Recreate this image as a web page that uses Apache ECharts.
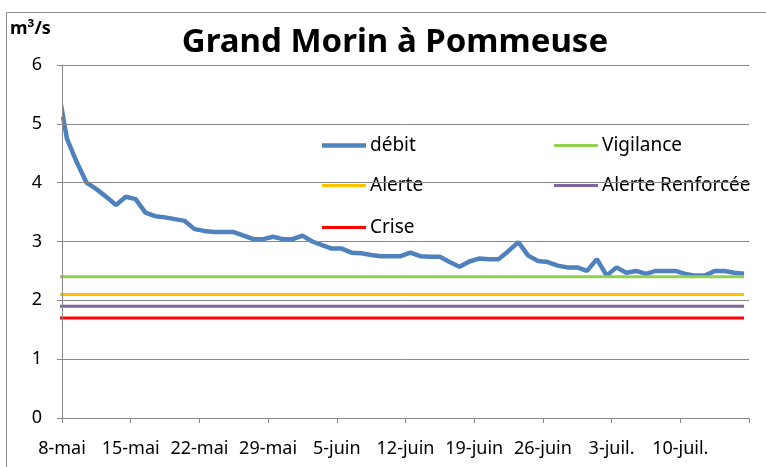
<!DOCTYPE html>
<html>
<head>
<meta charset="utf-8">
<script src="https://cdn.jsdelivr.net/npm/echarts@6/dist/echarts.min.js"></script>
<style>
  html, body { margin: 0; padding: 0; background: #fff; }
  #chart { width: 766px; height: 467px; }
</style>
</head>
<body>
<div id="chart"></div>
<script>
// axe des x : jours depuis le 8 mai, une étiquette toutes les semaines
const tickLabels = ['8-mai', '15-mai', '22-mai', '29-mai', '5-juin', '12-juin',
  '19-juin', '26-juin', '3-juil.', '10-juil.', ''];
// mesures journalières (prises à midi), la première le 7 mai
const firstDay = -0.5;
const debit = [
  5.70, 4.75, 4.35, 4.00, 3.89, 3.76, 3.62, 3.76, 3.72, 3.49, 3.43,
  3.41, 3.38, 3.35, 3.21, 3.18, 3.16, 3.16, 3.16, 3.10, 3.04,
  3.04, 3.08, 3.04, 3.04, 3.10, 3.00, 2.94, 2.88, 2.88, 2.81,
  2.80, 2.77, 2.75, 2.75, 2.75, 2.81, 2.75, 2.74, 2.74, 2.65,
  2.57, 2.66, 2.71, 2.70, 2.70, 2.84, 2.99, 2.76, 2.67, 2.65,
  2.59, 2.56, 2.56, 2.50, 2.70, 2.42, 2.56, 2.47, 2.50, 2.45,
  2.50, 2.50, 2.50, 2.45, 2.42, 2.42, 2.50, 2.50, 2.47, 2.45
];
// seuils (m3/s)
const vigilance = 2.4;
const alerte = 2.1;
const alerteRenforcee = 1.9;
const crise = 1.7;

const lastDay = firstDay + debit.length - 1;
const seuil = (v) => [[firstDay, v], [lastDay, v]];

let myChart = echarts.init(document.getElementById('chart'));
const txt = 'Noto Sans, sans-serif';

// une légende par entrée pour placer les deux colonnes comme dans Excel
const legendItem = (name, left, top, thick) => ({
  data: [name],
  left: left,
  top: top,
  icon: 'rect',
  itemWidth: 44,
  itemHeight: thick,
  itemGap: 0,
  textStyle: { fontFamily: txt, fontSize: 19, color: '#000', padding: [0, 0, 0, -1] },
  selectedMode: false
});

myChart.setOption({
  animation: false,
  backgroundColor: '#fff',
  graphic: [
    {
      type: 'rect',
      shape: { x: 6.5, y: 12.5, width: 780, height: 480 },
      style: { fill: 'none', stroke: '#8a8a8a', lineWidth: 1 },
      z: -1
    },
    // Excel coupe la courbe au bord du graphique
    {
      type: 'rect',
      shape: { x: 54, y: 67, width: 8.5, height: 50 },
      style: { fill: '#fff' },
      z: 100
    },
    {
      type: 'text',
      left: 10,
      top: 20,
      style: { text: 'm³/s', font: 'bold 18px ' + txt, fill: '#000' }
    }
  ],
  title: {
    text: 'Grand Morin à Pommeuse',
    left: 390,
    top: 21,
    textAlign: 'center',
    textStyle: { fontFamily: txt, fontSize: 33, fontWeight: 'bold', color: '#000' }
  },
  legend: [
    legendItem('débit', 317, 131, 4.5),
    legendItem('Vigilance', 549, 131, 3),
    legendItem('Alerte', 317, 171, 3),
    legendItem('Alerte Renforcée', 549, 171, 3),
    legendItem('Crise', 317, 213, 3)
  ],
  grid: { left: 62, right: 17, top: 65, bottom: 49 },
  xAxis: {
    type: 'value',
    min: 0,
    max: 70,
    interval: 7,
    axisLine: { show: true, lineStyle: { color: '#878787', width: 1 } },
    axisTick: { show: true, length: 5, lineStyle: { color: '#878787' } },
    splitLine: { show: false },
    axisLabel: {
      margin: 22,
      fontFamily: txt,
      fontSize: 18,
      color: '#000',
      formatter: (v) => tickLabels[Math.round(v / 7)]
    }
  },
  yAxis: {
    type: 'value',
    min: 0,
    max: 6,
    interval: 1,
    z: 101,
    axisLine: { show: true, lineStyle: { color: '#878787', width: 1 } },
    axisTick: { show: true, length: 5, lineStyle: { color: '#878787' } },
    splitLine: { show: true, lineStyle: { color: '#878787', width: 1 } },
    axisLabel: { margin: 20, fontFamily: txt, fontSize: 18, color: '#000' }
  },
  series: [
    {
      name: 'débit',
      type: 'line',
      symbol: 'none',
      clip: true,
      lineStyle: { color: '#4f81bd', width: 4.5 },
      itemStyle: { color: '#4f81bd' },
      data: debit.map((v, i) => [firstDay + i, v])
    },
    {
      name: 'Vigilance',
      type: 'line',
      symbol: 'none',
      lineStyle: { color: '#92d050', width: 3 },
      itemStyle: { color: '#92d050' },
      data: seuil(vigilance)
    },
    {
      name: 'Alerte',
      type: 'line',
      symbol: 'none',
      lineStyle: { color: '#ffc000', width: 3 },
      itemStyle: { color: '#ffc000' },
      data: seuil(alerte)
    },
    {
      name: 'Alerte Renforcée',
      type: 'line',
      symbol: 'none',
      lineStyle: { color: '#8064a2', width: 3 },
      itemStyle: { color: '#8064a2' },
      data: seuil(alerteRenforcee)
    },
    {
      name: 'Crise',
      type: 'line',
      symbol: 'none',
      lineStyle: { color: '#ff0000', width: 3 },
      itemStyle: { color: '#ff0000' },
      data: seuil(crise)
    }
  ]
});
</script>
</body>
</html>
